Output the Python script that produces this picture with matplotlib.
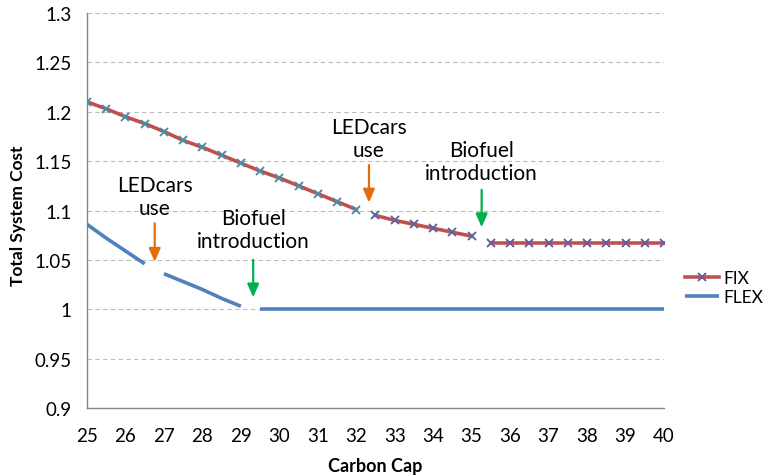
import numpy as np
import matplotlib
matplotlib.use("Agg")
import matplotlib.pyplot as plt

plt.rcParams['font.family'] = ['Lato', 'DejaVu Sans']

# FIX series, three pieces with gaps between them
fix_cap_1 = [25, 25.5, 26, 26.5, 27, 27.5, 28, 28.5, 29, 29.5, 30, 30.5, 31, 31.5, 32]
fix_cost_1 = [1.210, 1.203, 1.195, 1.188, 1.180, 1.171, 1.164, 1.156, 1.148, 1.140,
              1.133, 1.125, 1.117, 1.109, 1.101]
fix_cap_2 = [32.5, 33, 33.5, 34, 34.5, 35]
fix_cost_2 = [1.095, 1.090, 1.086, 1.082, 1.078, 1.074]
fix_cap_3 = [35.5, 36, 36.5, 37, 37.5, 38, 38.5, 39, 39.5, 40]
fix_cost_3 = [1.067] * 10

# FLEX series
flex_cap_1 = [25, 25.5, 26, 26.5]
flex_cost_1 = [1.086, 1.072, 1.059, 1.046]
flex_cap_2 = [27, 27.5, 28, 28.5, 29]
flex_cost_2 = [1.036, 1.028, 1.020, 1.011, 1.003]
flex_cap_3 = [29.5, 40]
flex_cost_3 = [1.0, 1.0]

x_ticks = list(range(25, 41))
y_ticks = [0.9, 0.95, 1, 1.05, 1.1, 1.15, 1.2, 1.25, 1.3]
y_labels = ['0.9', '0.95', '1', '1.05', '1.1', '1.15', '1.2', '1.25', '1.3']

# annotations: (text, x, text centre y, arrow start y, arrow tip y, colour)
notes = [
    ("LEDcars\nuse", 26.76, 1.114, 1.087, 1.048, '#E46C0A'),
    ("LEDcars\nuse", 32.33, 1.173, 1.146, 1.108, '#E46C0A'),
    ("Biofuel\nintroduction", 29.32, 1.081, 1.050, 1.012, '#00B050'),
    ("Biofuel\nintroduction", 35.26, 1.150, 1.121, 1.083, '#00B050'),
]

red = '#C0504D'
blue = '#4F81BD'

fig = plt.figure(figsize=(7.66, 4.77), dpi=100)
ax = fig.add_axes([0.1136, 0.1426, 0.7532, 0.828])

ax.plot(fix_cap_1, fix_cost_1, color=red, lw=2.6, marker='x', ms=5.5, mew=1.4,
        mec='#4A8FA8', label='FIX', zorder=3)
ax.plot(fix_cap_2, fix_cost_2, color=red, lw=2.6, marker='x', ms=5.5, mew=1.4,
        mec='#5A67A2', zorder=3)
ax.plot(fix_cap_3, fix_cost_3, color=red, lw=2.6, marker='x', ms=5.5, mew=1.4,
        mec='#6B5B9C', zorder=3)

ax.plot(flex_cap_1, flex_cost_1, color=blue, lw=2.6, solid_capstyle='butt', label='FLEX', zorder=3)
ax.plot(flex_cap_2, flex_cost_2, color=blue, lw=2.6, solid_capstyle='butt', zorder=3)
ax.plot(flex_cap_3, flex_cost_3, color=blue, lw=2.6, solid_capstyle='butt', zorder=3)

for txt, x, ty, y0, y1, col in notes:
    ax.text(x, ty, txt, ha='center', va='center', fontsize=15, linespacing=1.2,
            color='black')
    ax.annotate('', xy=(x, y1), xytext=(x, y0),
                arrowprops=dict(arrowstyle='-|>,head_width=0.35,head_length=0.8',
                                color=col, lw=1.6, shrinkA=0, shrinkB=0))

ax.set_xlim(25, 40)
ax.set_ylim(0.9, 1.3)
ax.set_xticks(x_ticks)
ax.set_yticks(y_ticks)
ax.set_yticklabels(y_labels)
ax.tick_params(axis='both', length=0, labelsize=13.5)
ax.tick_params(axis='x', pad=14)
ax.tick_params(axis='y', pad=11)

ax.grid(axis='y', color='#BDBDBD', ls=(0, (4, 3)), lw=0.8)
ax.set_axisbelow(True)
for s in ['top', 'right']:
    ax.spines[s].set_visible(False)
for s in ['left', 'bottom']:
    ax.spines[s].set_color('#868686')
    ax.spines[s].set_linewidth(1.0)

ax.set_xlabel('Carbon Cap', fontsize=13, fontweight='bold')
ax.set_ylabel('Total System Cost', fontsize=12.5, fontweight='bold')
ax.xaxis.set_label_coords(0.5, -0.125)
ax.yaxis.set_label_coords(-0.105, 0.49)

leg = ax.legend(loc='center left', bbox_to_anchor=(1.036, 0.305), frameon=False,
                fontsize=12.5, handlelength=2.0, handletextpad=0.2, labelspacing=0.15,
                borderaxespad=0, borderpad=0)
leg.legend_handles[0].set_markeredgecolor('#6B5B9C')

fig.savefig('out.png', dpi=100)
